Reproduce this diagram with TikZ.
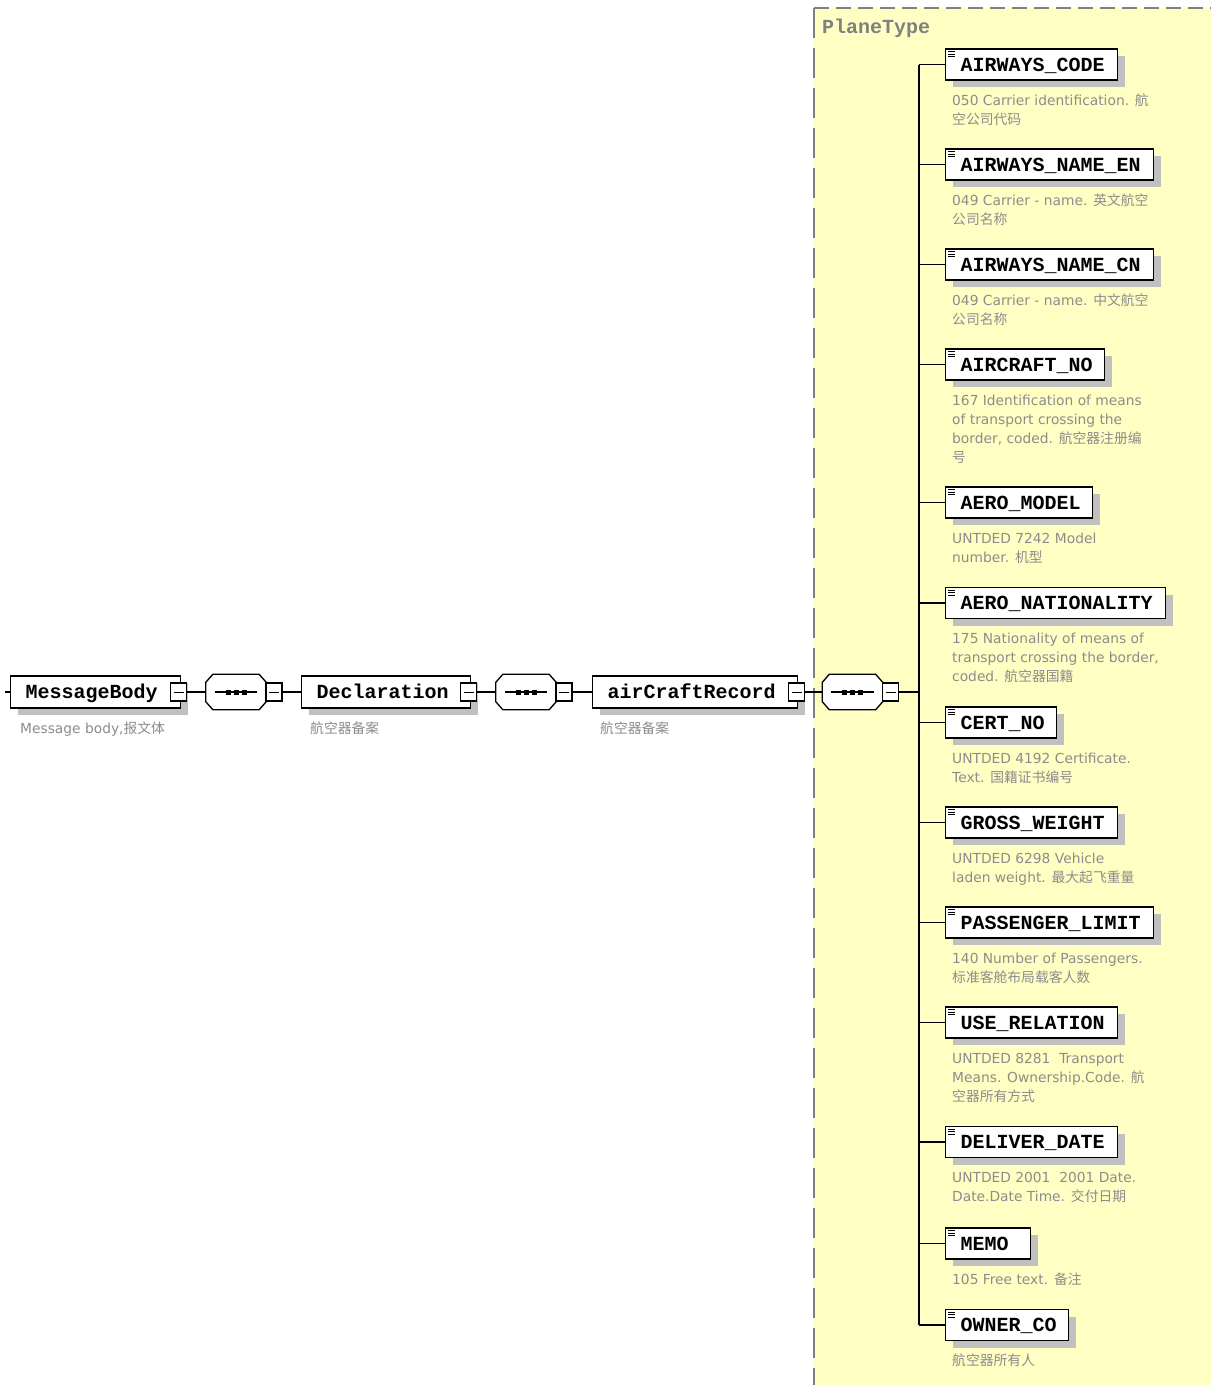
\documentclass[tikz,border=0pt]{standalone}
\usepackage{fontspec}
\setmainfont{DejaVu Sans}
\newfontfamily\cjk{Noto Sans CJK SC}
\newfontfamily\lblfont{Liberation Mono}
\usetikzlibrary{shadows,calc}
\definecolor{planeyellow}{RGB}{255,255,196}
\definecolor{shadowgray}{RGB}{192,192,192}
\definecolor{descgray}{RGB}{140,140,140}
\definecolor{dashgray}{RGB}{128,128,128}
\newcommand\dstrut{\rule{0pt}{13.5pt}}
\tikzset{
  boxshadow/.style={drop shadow={shadow xshift=7pt, shadow yshift=-7pt, fill=shadowgray, opacity=1}},
  elbox/.style={draw=black, line width=1.4pt, fill=white, minimum height=31pt, text width=#1, align=left,
    text height=16pt, text depth=3pt,
    font=\lblfont\bfseries\fontsize{20}{20}\selectfont, boxshadow},
  topbox/.style={elbox=#1, minimum height=32pt},
  desc/.style={text=descgray, align=left, font=\fontsize{13.8}{19}\selectfont},
  conn/.style={draw=black, line width=1.4pt},
  minusbox/.style={draw=black, line width=1.2pt, fill=white, minimum width=16pt, minimum height=18pt,
    path picture={\draw[line width=1pt] ([xshift=3pt]path picture bounding box.west) -- ([xshift=-3pt]path picture bounding box.east);}},
  seqarea/.style={minimum width=60pt, minimum height=35pt},
  iconline/.style={line width=0.8pt, black}
}
\newcommand\xsdelem[5]{%
  \node[elbox=#3pt, anchor=west] (#1) at (945,#4) {\hspace*{15pt}#2};
  \draw[iconline] ($(#1.north west)+(3,3.5)$) -- ++(7,0);
  \draw[iconline] ($(#1.north west)+(3,6)$) -- ++(7,0);
  \draw[iconline] ($(#1.north west)+(3,8.5)$) -- ++(7,0);
  \node[desc, anchor=north west] (#1d) at (952,#4+27) {\dstrut #5};
  \draw[conn] (#1.west -| trunktop) -- (#1.west);
}
\newcommand\octo[1]{%
  \fill[shadowgray, shift={(7,7)}] ($(#1.north west)+(7,0)$) -- ($(#1.north east)+(-7,0)$) -- ($(#1.north east)+(0,8)$) -- ($(#1.south east)+(0,-8)$) -- ($(#1.south east)+(-7,0)$) -- ($(#1.south west)+(7,0)$) -- ($(#1.south west)+(0,-8)$) -- ($(#1.north west)+(0,8)$) -- cycle;
  \draw[fill=white, line width=1.3pt] ($(#1.north west)+(7,0)$) -- ($(#1.north east)+(-7,0)$) -- ($(#1.north east)+(0,8)$) -- ($(#1.south east)+(0,-8)$) -- ($(#1.south east)+(-7,0)$) -- ($(#1.south west)+(7,0)$) -- ($(#1.south west)+(0,-8)$) -- ($(#1.north west)+(0,8)$) -- cycle;
  \draw[line width=1.2pt] ($(#1.west)+(9,0)$) -- ($(#1.east)+(-9,0)$);
  \fill ($(#1.center)+(-10.5,-2.5)$) rectangle ++(5,5);
  \fill ($(#1.center)+(-2.5,-2.5)$) rectangle ++(5,5);
  \fill ($(#1.center)+(5.5,-2.5)$) rectangle ++(5,5);
}
\begin{document}
\begin{tikzpicture}[x=1pt,y=-1pt, every node/.style={inner sep=0pt}]
\useasboundingbox (0,0) rectangle (1211,1385);
\fill[white] (0,0) rectangle (1211,1385);
% PlaneType area
\fill[planeyellow] (813,8) rectangle (1211,1385);
\draw[dashgray, line width=1.3pt, dash pattern=on 15pt off 7pt] (814,8) -- (1211,8);
\draw[dashgray, line width=1.3pt, dash pattern=on 30pt off 10pt] (814,8) -- (814,1385);
\node[anchor=base west, text=dashgray, font=\lblfont\bfseries\fontsize{20}{20}\selectfont] (planetype) at (822,33) {PlaneType};

% coordinates
\coordinate (start) at (5,692);
\coordinate (trunk) at (919,692);
\coordinate (trunktop) at (919,64.5);
\coordinate (trunkbot) at (919,1325);

% sequence areas (invisible nodes)
\node[seqarea] (seq1) at (236,692) {};
\node[seqarea] (seq2) at (526,692) {};
\node[seqarea] (seq3) at (852.5,692) {};

% top-level boxes
\node[topbox=170pt, anchor=west] (mb) at (10,692) {\hspace*{15pt}MessageBody};
\node[topbox=169pt, anchor=west] (decl) at (301,692) {\hspace*{15pt}Declaration};
\node[topbox=205pt, anchor=west] (acr) at (592,692) {\hspace*{15pt}airCraftRecord};

\octo{seq1}
\octo{seq2}
\octo{seq3}

\node[minusbox] (mbx) at (178.5,692) {};
\node[minusbox] (declx) at (468.5,692) {};
\node[minusbox] (acrx) at (796.5,692) {};
\node[minusbox] (seq1x) at (274,692) {};
\node[minusbox] (seq2x) at (564,692) {};
\node[minusbox] (seq3x) at (890.5,692) {};

\node[desc, anchor=base west] (mbd) at (20,733) {Message body,{\cjk 报文体}};
\node[desc, anchor=base west] (decld) at (310,733) {{\cjk 航空器备案}};
\node[desc, anchor=base west] (acrd) at (600,733) {{\cjk 航空器备案}};

% connectors
\draw[conn] (start) -- (mb.west);
\draw[conn] (mbx.east) -- (seq1.west);
\draw[conn] (seq1x.east) -- (decl.west);
\draw[conn] (declx.east) -- (seq2.west);
\draw[conn] (seq2x.east) -- (acr.west);
\draw[conn] (acrx.east) -- (seq3.west);
\draw[conn] (seq3x.east) -- (trunk);
\draw[conn] (trunktop) -- (trunkbot);

% elements
\xsdelem{e1}{AIRWAYS\_CODE}{172}{64.5}{050 Carrier identification. {\cjk 航}\\{\cjk 空公司代码}}
\xsdelem{e2}{AIRWAYS\_NAME\_EN}{208}{164.5}{049 Carrier - name. {\cjk 英文航空}\\{\cjk 公司名称}}
\xsdelem{e3}{AIRWAYS\_NAME\_CN}{208}{264.5}{049 Carrier - name. {\cjk 中文航空}\\{\cjk 公司名称}}
\xsdelem{e4}{AIRCRAFT\_NO}{159}{364.5}{167 Identification of means\\of transport crossing the\\border, coded. {\cjk 航空器注册编}\\{\cjk 号}}
\xsdelem{e5}{AERO\_MODEL}{147}{502.5}{UNTDED 7242 Model\\number. {\cjk 机型}}
\xsdelem{e6}{AERO\_NATIONALITY}{220}{603}{175 Nationality of means of\\transport crossing the border,\\coded. {\cjk 航空器国籍}}
\xsdelem{e7}{CERT\_NO}{111}{722.5}{UNTDED 4192 Certificate.\\Text. {\cjk 国籍证书编号}}
\xsdelem{e8}{GROSS\_WEIGHT}{172}{822.5}{UNTDED 6298 Vehicle\\laden weight. {\cjk 最大起飞重量}}
\xsdelem{e9}{PASSENGER\_LIMIT}{208}{922.5}{140 Number of Passengers.\\{\cjk 标准客舱布局载客人数}}
\xsdelem{e10}{USE\_RELATION}{172}{1022.5}{UNTDED 8281\ \ Transport\\Means. Ownership.Code. {\cjk 航}\\{\cjk 空器所有方式}}
\xsdelem{e11}{DELIVER\_DATE}{172}{1142}{UNTDED 2001\ \ 2001 Date.\\Date.Date Time. {\cjk 交付日期}}
\xsdelem{e12}{MEMO}{85}{1243.5}{105 Free text. {\cjk 备注}}
\xsdelem{e13}{OWNER\_CO}{123}{1325}{{\cjk 航空器所有人}}
\end{tikzpicture}
\end{document}
